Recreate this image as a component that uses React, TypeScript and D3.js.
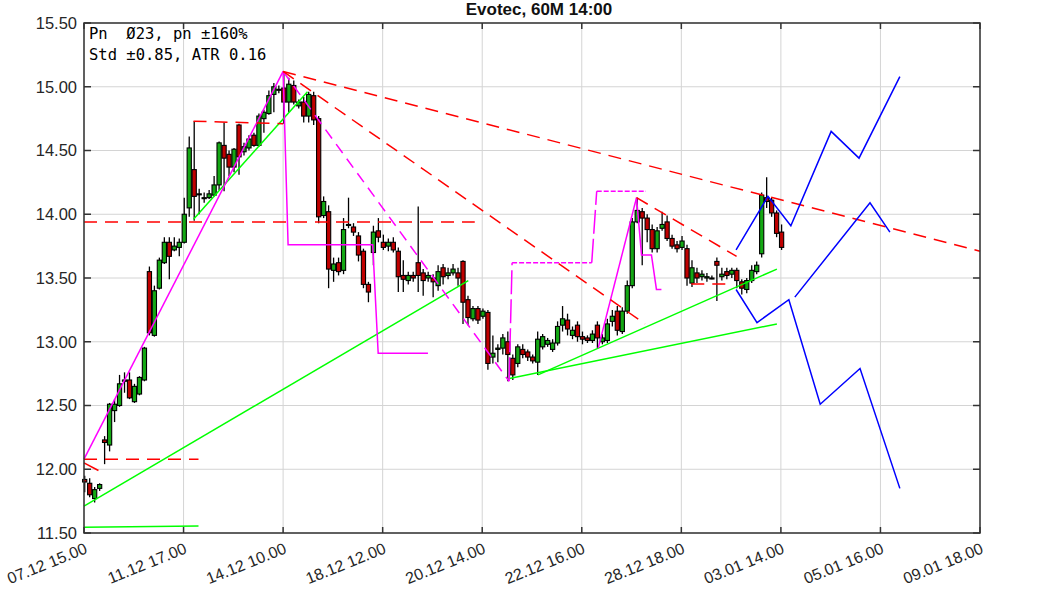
import React from "react";
import * as d3 from "d3";

const TITLE = "Evotec, 60M 14:00";
const INFO = ["Pn  Ø23, pn ±160%", "Std ±0.85, ATR 0.16"];

const xTickLabels = ["07.12 15.00", "11.12 17.00", "14.12 10.00", "18.12 12.00", "20.12 14.00", "22.12 16.00", "28.12 18.00", "03.01 14.00", "05.01 16.00", "09.01 18.00"];
const xTickBars = [0, 20, 40, 60, 80, 100, 120, 140, 160, 180];
const yTicks = [11.5, 12.0, 12.5, 13.0, 13.5, 14.0, 14.5, 15.0, 15.5];

// OHLC per hourly bar
const opens = [11.92,11.89,11.77,11.85,12.23,12.19,12.46,12.50,12.69,12.70,12.53,12.59,12.70,13.55,13.05,13.42,13.62,13.78,13.72,13.74,
13.78,14.05,14.35,14.16,14.13,14.13,14.15,14.23,14.54,14.47,14.37,14.70,14.49,14.52,14.62,14.54,14.75,14.79,14.94,14.98,
14.99,14.88,15.01,14.85,14.88,14.77,14.93,14.75,13.99,14.02,13.56,13.62,13.56,13.92,13.90,13.83,13.71,13.45,13.70,13.87,
13.78,13.75,13.78,13.71,13.52,13.48,13.52,13.62,13.54,13.50,13.50,13.44,13.58,13.52,13.54,13.54,13.63,13.33,13.18,13.26,
13.20,13.23,12.88,12.94,12.95,13.00,12.87,12.83,12.94,12.92,12.88,12.84,12.96,12.98,12.94,12.99,13.13,13.17,13.05,13.13,
13.04,13.03,13.01,13.13,13.00,13.01,13.16,13.24,13.08,13.24,13.44,13.94,14.02,13.97,13.88,13.73,13.89,13.94,13.81,13.76,
13.74,13.73,13.46,13.54,13.51,13.50,13.50,13.63,13.51,13.55,13.53,13.56,13.47,13.41,13.48,13.55,13.69,14.13,14.11,14.01,13.86];
const highs = [11.95,11.93,11.86,11.89,12.26,12.52,12.55,12.74,12.76,12.76,12.67,12.73,12.96,13.59,13.44,13.66,13.82,13.82,13.82,13.81,
14.13,14.61,14.73,14.20,14.17,14.19,14.30,14.57,14.72,14.50,14.52,14.71,14.56,14.62,14.64,14.79,14.82,14.97,15.03,15.01,
15.12,15.07,15.05,14.90,14.92,14.96,14.96,14.77,14.14,14.07,13.66,13.66,13.97,14.13,13.93,13.86,13.73,13.47,13.91,13.97,
13.84,13.81,13.82,13.74,13.64,13.55,13.55,14.06,13.57,13.55,13.53,13.60,13.61,13.58,13.61,13.58,13.64,13.36,13.28,13.28,
13.26,13.25,13.05,12.98,13.06,13.08,12.90,12.98,12.98,12.94,12.90,13.08,13.06,13.03,13.02,13.16,13.28,13.22,13.12,13.16,
13.08,13.05,13.09,13.16,13.06,13.18,13.25,13.28,13.27,13.48,13.97,14.13,14.05,14.00,13.92,13.90,14.02,13.99,13.84,13.79,
13.83,13.76,13.64,13.58,13.56,13.54,13.52,13.66,13.58,13.58,13.58,13.58,13.49,13.50,13.60,13.63,14.17,14.29,14.13,14.03,13.92];
const lows = [11.82,11.78,11.74,11.83,12.04,12.14,12.37,12.49,12.60,12.55,12.52,12.58,12.69,13.05,13.04,13.41,13.61,13.49,13.71,13.67,
13.77,13.98,13.95,14.00,14.09,14.12,14.14,14.19,14.18,14.30,14.33,14.31,14.46,14.50,14.53,14.53,14.64,14.78,14.80,14.95,
14.71,14.80,14.86,14.83,14.72,14.72,14.70,13.93,13.97,13.42,13.47,13.52,13.53,13.89,13.83,13.63,13.42,13.31,13.60,13.78,
13.72,13.71,13.70,13.39,13.39,13.45,13.47,13.39,13.36,13.47,13.35,13.40,13.45,13.49,13.52,13.44,13.14,13.13,13.16,13.14,
13.18,12.78,12.83,12.84,12.90,12.69,12.70,12.80,12.87,12.85,12.83,12.74,12.94,12.96,12.92,12.97,13.08,13.05,13.02,13.00,
12.98,12.99,12.99,12.95,12.98,12.99,13.12,13.05,13.06,13.22,13.42,13.93,13.60,13.78,13.70,13.70,13.87,13.79,13.73,13.70,
13.72,13.44,13.43,13.46,13.48,13.47,13.49,13.32,13.48,13.49,13.50,13.42,13.37,13.38,13.46,13.53,13.66,14.05,13.98,13.82,13.72];
const closes = [11.90,11.80,11.84,11.88,12.21,12.51,12.51,12.67,12.70,12.56,12.65,12.72,12.95,13.07,13.40,13.64,13.78,13.67,13.75,13.78,
14.00,14.52,14.14,14.16,14.13,14.16,14.23,14.56,14.44,14.37,14.51,14.45,14.53,14.59,14.54,14.77,14.80,14.93,15.00,14.98,
14.88,15.02,14.88,14.88,14.77,14.94,14.74,13.98,14.10,13.57,13.61,13.55,13.88,13.92,13.86,13.68,13.45,13.39,13.86,13.82,
13.74,13.78,13.72,13.51,13.49,13.52,13.50,13.52,13.48,13.52,13.47,13.55,13.51,13.54,13.57,13.50,13.31,13.19,13.26,13.17,
13.24,12.83,12.91,12.95,13.03,12.90,12.74,12.96,12.90,12.88,12.85,13.02,13.04,13.01,12.99,13.12,13.18,13.10,13.09,13.04,
13.02,13.01,13.06,13.03,13.03,13.14,13.20,13.09,13.24,13.44,13.94,14.03,13.97,13.88,13.73,13.87,13.92,13.81,13.75,13.73,
13.79,13.50,13.58,13.50,13.53,13.51,13.50,13.60,13.53,13.52,13.56,13.48,13.42,13.48,13.56,13.60,14.15,14.10,14.01,13.85,13.74];

// overlay lines, points as [bar, price]
const magentaSolid = [
  [[0, 12.08], [40, 15.12]],
  [[40, 15.12], [41, 13.76], [58, 13.76], [59.1, 12.91], [69.1, 12.91]],
  [[103.3, 12.95], [111, 14.13]],
  [[111, 14.13], [112, 13.68], [114, 13.68], [115, 13.41], [116, 13.41]],
];
const magentaDiag = [[[40, 15.12], [85.4, 12.69]]];
const magentaStepV = [[[85.4, 12.69], [86, 13.62]], [[102, 13.62], [103, 14.18]]];
const magentaStepH = [[[86, 13.62], [102, 13.62]], [[103, 14.18], [112.9, 14.18]]];
const redDashed = [
  [[0, 13.94], [78.5, 13.94]],
  [[0, 12.078], [23, 12.078]],
  [[22, 14.73], [40, 14.71]],
  [[40, 15.12], [180, 13.71]],
  [[40, 15.12], [112.7, 13.14]],
  [[111, 14.13], [131.1, 13.67]],
  [[122, 13.453], [130.4, 13.453]],
];
const redShort = [[[0, 12.05], [2.9, 11.99]]];
const greenLines = [
  [[0, 11.71], [77.2, 13.48]],
  [[0, 11.545], [23, 11.555]],
  [[22, 13.96], [44.9, 14.96]],
  [[85.2, 12.71], [139.2, 13.14]],
  [[91.2, 12.74], [139.2, 13.57]],
];
const blueLines = [
  [[131, 13.72], [137.4, 14.14], [142, 13.91], [150.1, 14.65], [155.7, 14.44], [163.9, 15.08]],
  [[142.8, 13.35], [157.9, 14.09], [161.9, 13.86]],
  [[131, 13.41], [135.2, 13.15], [141.6, 13.33], [147.9, 12.51], [155.9, 12.79], [163.9, 11.85]],
];

const W = 1063, H = 591;
const L = 84, R = 980, T = 23, B = 533;

export default function App() {
  const x = d3.scaleLinear().domain([0, 180]).range([L, R]);
  const y = d3.scaleLinear().domain([11.5, 15.5]).range([B, T]);
  const line = d3.line<number[]>().x((d) => x(d[0])).y((d) => y(d[1]));
  const bw = 4.2;
  const font = "'Liberation Sans', Arial, sans-serif";

  const paths = (arr: number[][][], stroke: string, dash?: string, key = "") =>
    arr.map((pts, i) => (
      <path key={key + i} d={line(pts) || ""} fill="none" stroke={stroke} strokeWidth={1.5} strokeDasharray={dash} />
    ));

  return (
    <svg width={W} height={H} style={{ position: "absolute", left: 0, top: 0, background: "#fff" }}>
      <rect x={0} y={0} width={W} height={H} fill="#fff" />
      <text x={(L + R) / 2 + 7} y={15} textAnchor="middle" fontFamily={font} fontWeight="bold" fontSize={17} fill="#111">
        {TITLE}
      </text>
      {/* grid */}
      {xTickBars.map((b) => (
        <line key={"gx" + b} x1={x(b)} x2={x(b)} y1={T} y2={B} stroke="#d4d4d4" strokeWidth={1} />
      ))}
      {yTicks.map((v) => (
        <line key={"gy" + v} x1={L} x2={R} y1={y(v)} y2={y(v)} stroke="#d4d4d4" strokeWidth={1} />
      ))}
      {/* candles */}
      {opens.map((o, i) => {
        const c = closes[i];
        const up = c >= o;
        const top = y(Math.max(o, c));
        const bot = y(Math.min(o, c));
        const cx = x(i) + 0.7;
        return (
          <g key={"c" + i}>
            <line x1={cx} x2={cx} y1={y(highs[i])} y2={y(lows[i])} stroke="#000" strokeWidth={1.3} />
            <rect x={cx - bw / 2} y={top} width={bw} height={Math.max(1, bot - top)} fill={up ? "#14a814" : "#c00000"} stroke="#000" strokeWidth={1.1} />
          </g>
        );
      })}
      {paths(greenLines, "#00ff00", undefined, "g")}
      {paths(magentaSolid, "#ff00ff", undefined, "ms")}
      {paths(magentaDiag, "#ff00ff", "11,7", "md")}
      {paths(magentaStepV, "#ff00ff", "24,5", "mv")}
      {paths(magentaStepH, "#ff00ff", "5,2", "mh")}
      {paths(redDashed, "#ff0000", "13,8", "rd")}
      {paths(redShort, "#ff0000", undefined, "rs")}
      {paths(blueLines, "#0000ff", undefined, "b")}
      {/* frame and ticks */}
      <rect x={L} y={T} width={R - L} height={B - T} fill="none" stroke="#333" strokeWidth={1.5} />
      {xTickBars.map((b) => (
        <g key={"tx" + b}>
          <line x1={x(b)} x2={x(b)} y1={B} y2={B - 6} stroke="#333" strokeWidth={1.5} />
          <line x1={x(b)} x2={x(b)} y1={T} y2={T + 6} stroke="#333" strokeWidth={1.5} />
        </g>
      ))}
      {yTicks.map((v) => (
        <g key={"ty" + v}>
          <line x1={L} x2={L + 7} y1={y(v)} y2={y(v)} stroke="#333" strokeWidth={1.5} />
          <line x1={R} x2={R - 7} y1={y(v)} y2={y(v)} stroke="#333" strokeWidth={1.5} />
          <text x={L - 7} y={y(v)} dy="0.35em" textAnchor="end" fontFamily={font} fontSize={16.5} fill="#262626">
            {v.toFixed(2)}
          </text>
        </g>
      ))}
      {xTickBars.map((b, i) => (
        <text key={"xl" + b} transform={`translate(${x(b)},${B + 9}) rotate(-22)`} dy="0.72em" textAnchor="end" fontFamily={font} fontSize={16} fill="#262626">
          {xTickLabels[i]}
        </text>
      ))}
      {INFO.map((s, i) => (
        <text key={"info" + i} x={89} y={39 + i * 21} fontFamily="'DejaVu Sans Mono', monospace" fontSize={15.5} fill="#000" style={{ whiteSpace: "pre" }} xmlSpace="preserve">
          {s}
        </text>
      ))}
    </svg>
  );
}
